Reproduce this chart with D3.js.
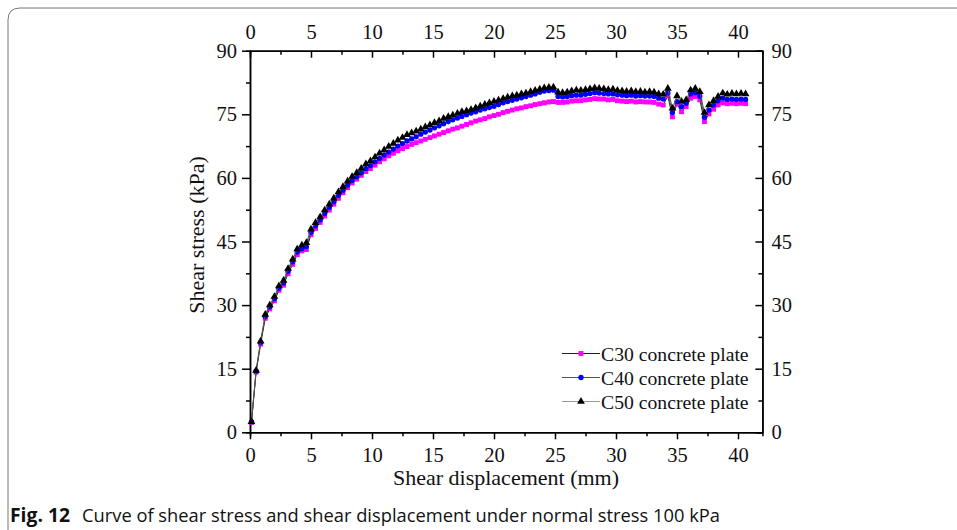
<!DOCTYPE html>
<html>
<head>
<meta charset="utf-8">
<script src="https://cdn.jsdelivr.net/npm/d3@7"></script>
<style>
  body { margin: 0; background: #fff; }
  svg { display: block; }
</style>
</head>
<body>
<svg id="chart" width="957" height="530"></svg>
<script>
// shear displacement (mm) of each reading
var displacement = [0.12, 0.50, 0.87, 1.25, 1.62, 2.00, 2.37, 2.75, 3.12, 3.50,
  3.87, 4.25, 4.62, 5.00, 5.37, 5.75, 6.12, 6.50, 6.87, 7.25,
  7.62, 8.00, 8.37, 8.75, 9.12, 9.50, 9.87, 10.25, 10.62, 11.00,
  11.37, 11.75, 12.12, 12.50, 12.87, 13.25, 13.62, 14.00, 14.37, 14.75,
  15.12, 15.50, 15.87, 16.25, 16.62, 17.00, 17.37, 17.75, 18.12, 18.50,
  18.87, 19.25, 19.62, 20.00, 20.37, 20.75, 21.12, 21.50, 21.87, 22.25,
  22.62, 23.00, 23.37, 23.75, 24.12, 24.50, 24.87, 25.25, 25.62, 26.00,
  26.37, 26.75, 27.12, 27.50, 27.87, 28.25, 28.62, 29.00, 29.37, 29.75,
  30.12, 30.50, 30.87, 31.25, 31.62, 32.00, 32.37, 32.75, 33.12, 33.50,
  33.87, 34.25, 34.62, 35.00, 35.37, 35.75, 36.12, 36.50, 36.87, 37.25,
  37.62, 38.00, 38.37, 38.75, 39.12, 39.50, 39.87, 40.25, 40.62];

// shear stress (kPa)
var c30 = [2.3, 14.2, 20.8, 26.9, 29.1, 31.0, 33.5, 34.7, 37.4, 39.6,
  41.9, 42.8, 43.1, 46.6, 48.1, 49.5, 51.0, 52.4, 53.8, 55.2,
  56.5, 57.7, 58.8, 59.7, 60.6, 61.5, 62.2, 63.0, 63.8, 64.5,
  65.2, 65.8, 66.4, 66.9, 67.4, 67.9, 68.3, 68.7, 69.1, 69.5,
  69.9, 70.3, 70.7, 71.1, 71.5, 71.8, 72.2, 72.6, 73.0, 73.4,
  73.7, 74.0, 74.4, 74.7, 75.0, 75.4, 75.7, 76.0, 76.3, 76.5,
  76.8, 77.0, 77.3, 77.5, 77.7, 77.9, 78.0, 77.8, 77.8, 77.9,
  78.1, 78.2, 78.2, 78.4, 78.5, 78.7, 78.6, 78.6, 78.4, 78.5,
  78.2, 78.1, 78.0, 78.1, 77.9, 78.0, 77.9, 77.9, 77.8, 77.4,
  77.2, 79.3, 74.4, 77.4, 75.6, 76.8, 78.8, 79.2, 78.4, 73.3,
  75.1, 76.2, 77.2, 77.7, 77.5, 77.6, 77.5, 77.6, 77.5];

var c40 = [2.5, 14.4, 21.2, 27.3, 29.6, 31.5, 34.0, 35.2, 38.0, 40.2,
  42.5, 43.3, 43.8, 47.2, 48.7, 50.1, 51.6, 53.0, 54.4, 55.9,
  57.1, 58.3, 59.4, 60.3, 61.2, 62.2, 62.9, 63.8, 64.6, 65.4,
  66.1, 66.8, 67.5, 68.1, 68.7, 69.2, 69.7, 70.3, 70.8, 71.3,
  71.8, 72.3, 72.8, 73.3, 73.7, 74.1, 74.5, 74.9, 75.3, 75.6,
  76.0, 76.3, 76.6, 76.9, 77.3, 77.7, 78.0, 78.3, 78.6, 78.9,
  79.2, 79.5, 79.8, 80.2, 80.5, 80.6, 80.7, 79.2, 79.1, 79.2,
  79.4, 79.5, 79.5, 79.7, 79.9, 80.1, 80.0, 79.9, 79.8, 79.8,
  79.6, 79.5, 79.4, 79.5, 79.3, 79.4, 79.3, 79.3, 79.2, 78.8,
  78.6, 80.1, 75.4, 78.0, 76.8, 77.6, 79.8, 80.1, 79.3, 74.3,
  76.0, 77.2, 78.2, 78.8, 78.5, 78.6, 78.5, 78.6, 78.5];

var c50 = [2.5, 14.6, 21.5, 27.8, 30.0, 32.0, 34.5, 35.8, 38.6, 40.8,
  43.2, 44.1, 44.7, 47.9, 49.4, 50.8, 52.4, 53.8, 55.2, 56.7,
  57.9, 59.2, 60.3, 61.2, 62.2, 63.3, 64.0, 64.9, 65.8, 66.6,
  67.4, 68.1, 68.9, 69.5, 70.2, 70.6, 71.0, 71.5, 72.0, 72.5,
  73.0, 73.4, 74.0, 74.4, 74.8, 75.2, 75.6, 75.8, 76.1, 76.5,
  76.9, 77.3, 77.7, 78.0, 78.3, 78.7, 79.0, 79.3, 79.5, 79.8,
  80.0, 80.3, 80.6, 80.9, 81.2, 81.3, 81.4, 80.2, 80.1, 80.2,
  80.5, 80.7, 80.6, 80.8, 81.0, 81.2, 81.1, 81.0, 80.8, 80.9,
  80.6, 80.5, 80.4, 80.5, 80.3, 80.4, 80.2, 80.3, 80.2, 79.8,
  79.7, 81.1, 76.4, 79.3, 78.0, 78.4, 80.7, 81.1, 80.3, 75.4,
  77.2, 78.2, 79.2, 80.0, 79.7, 79.9, 79.8, 79.9, 79.8];

var seriesNames = ["C30 concrete plate", "C40 concrete plate", "C50 concrete plate"];

var xTicks = [0, 5, 10, 15, 20, 25, 30, 35, 40];
var xMinor = [2.5, 7.5, 12.5, 17.5, 22.5, 27.5, 32.5, 37.5];
var yTicks = [0, 15, 30, 45, 60, 75, 90];
var yMinor = [7.5, 22.5, 37.5, 52.5, 67.5, 82.5];

var serif = "'Liberation Serif', 'Times New Roman', serif";

var svg = d3.select("#chart");

// card frame with rounded top-left corner
svg.append("path")
  .attr("d", "M8,530 L8,20 Q8,8 20,8 L957,8")
  .attr("fill", "none")
  .attr("stroke", "#777")
  .attr("stroke-width", 1);

var x = d3.scaleLinear().domain([0, 42]).range([250, 762.4]);
var y = d3.scaleLinear().domain([0, 90]).range([432.3, 50.7]);

function styleAxis(g) {
  g.selectAll("path.domain").attr("stroke", "#000").attr("stroke-width", 1.5);
  g.selectAll(".tick line").attr("stroke", "#000").attr("stroke-width", 1.5);
  g.selectAll("text").attr("font-family", serif).attr("font-size", 20.5).attr("fill", "#111");
}

// minor ticks first (no labels)
svg.append("g").attr("transform", "translate(0," + y(0) + ")")
  .call(d3.axisBottom(x).tickValues(xMinor).tickSize(4).tickFormat(""))
  .call(styleAxis);
svg.append("g").attr("transform", "translate(0," + y(90) + ")")
  .call(d3.axisTop(x).tickValues(xMinor).tickSize(-4).tickFormat(""))
  .call(styleAxis);
svg.append("g").attr("transform", "translate(" + x(0) + ",0)")
  .call(d3.axisLeft(y).tickValues(yMinor).tickSize(4).tickFormat(""))
  .call(styleAxis);
svg.append("g").attr("transform", "translate(" + x(42) + ",0)")
  .call(d3.axisRight(y).tickValues(yMinor).tickSize(-4).tickFormat(""))
  .call(styleAxis);

// major ticks
svg.append("g").attr("transform", "translate(0," + y(0) + ")")
  .call(d3.axisBottom(x).tickValues(xTicks).tickSize(7).tickSizeOuter(0).tickPadding(8))
  .call(styleAxis);
svg.append("g").attr("transform", "translate(0," + y(90) + ")")
  .call(d3.axisTop(x).tickValues(xTicks).tickSize(-7).tickSizeOuter(0).tickPadding(12))
  .call(styleAxis);
svg.append("g").attr("transform", "translate(" + x(0) + ",0)")
  .call(d3.axisLeft(y).tickValues(yTicks).tickSize(8).tickSizeOuter(0).tickPadding(5))
  .call(styleAxis);
svg.append("g").attr("transform", "translate(" + x(42) + ",0)")
  .call(d3.axisRight(y).tickValues(yTicks).tickSize(-7).tickSizeOuter(0).tickPadding(9))
  .call(styleAxis);

// axis titles
svg.append("text")
  .attr("x", 506).attr("y", 485)
  .attr("text-anchor", "middle")
  .attr("font-family", serif).attr("font-size", 22).attr("fill", "#111")
  .text("Shear displacement (mm)");

svg.append("text")
  .attr("transform", "translate(204,235) rotate(-90)")
  .attr("text-anchor", "middle")
  .attr("font-family", serif).attr("font-size", 22).attr("fill", "#111")
  .text("Shear stress (kPa)");

// series
var series = [
  { name: seriesNames[0], values: c30, color: "#ff00ff", line: "#222", symbol: d3.symbolSquare, size: 24 },
  { name: seriesNames[1], values: c40, color: "#0000ff", line: "#444", symbol: d3.symbolCircle, size: 22 },
  { name: seriesNames[2], values: c50, color: "#000", line: "#555", symbol: d3.symbolTriangle, size: 26 }
];

var line = d3.line()
  .x(function (d) { return x(d[0]); })
  .y(function (d) { return y(d[1]); });

series.forEach(function (s) {
  var pts = displacement.map(function (dx, i) { return [dx, s.values[i]]; });
  svg.append("path")
    .datum(pts)
    .attr("d", line)
    .attr("fill", "none")
    .attr("stroke", s.line)
    .attr("stroke-width", 1);
  svg.append("g").selectAll("path")
    .data(pts)
    .join("path")
    .attr("transform", function (d) { return "translate(" + x(d[0]) + "," + y(d[1]) + ")"; })
    .attr("d", d3.symbol().type(s.symbol).size(s.size))
    .attr("fill", s.color);
});

// legend
var legendLines = ["#222", "#555", "#999"];
var legend = svg.append("g");
series.forEach(function (s, i) {
  var ly = 353.5 + i * 24;
  legend.append("line")
    .attr("x1", 562).attr("x2", 600)
    .attr("y1", ly).attr("y2", ly)
    .attr("stroke", legendLines[i]).attr("stroke-width", 1);
  legend.append("path")
    .attr("transform", "translate(581," + ly + ")")
    .attr("d", d3.symbol().type(s.symbol).size(s.size))
    .attr("fill", s.color);
  legend.append("text")
    .attr("x", 601).attr("y", ly + 7)
    .attr("font-family", serif).attr("font-size", 19.7).attr("fill", "#111")
    .text(s.name);
});

// caption
var cap = svg.append("text")
  .attr("x", 10).attr("y", 522)
  .attr("font-family", "'Open Sans', 'Noto Sans', sans-serif")
  .attr("font-size", 19).attr("fill", "#111");
cap.append("tspan").attr("font-weight", "bold")
  .attr("textLength", 60).attr("lengthAdjust", "spacingAndGlyphs")
  .text("Fig. 12");
cap.append("tspan").attr("x", 82)
  .attr("textLength", 638).attr("lengthAdjust", "spacingAndGlyphs")
  .text("Curve of shear stress and shear displacement under normal stress 100 kPa");
</script>
</body>
</html>
